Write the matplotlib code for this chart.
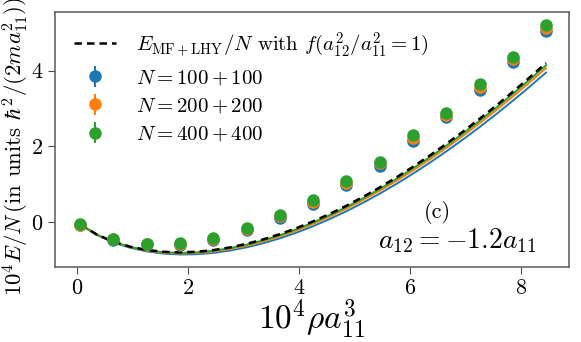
import numpy as np
import matplotlib
matplotlib.use('Agg')
import matplotlib.pyplot as plt

plt.rcParams['font.family'] = 'serif'
plt.rcParams['font.serif'] = ['cmr10', 'DejaVu Serif']
plt.rcParams['mathtext.fontset'] = 'cm'
plt.rcParams['axes.unicode_minus'] = False
plt.rcParams['axes.formatter.use_mathtext'] = True

# simulation points (10^4 rho a11^3, 10^4 E/N)
rho_pts = [0.05, 0.65, 1.25, 1.85, 2.45, 3.05, 3.65, 4.25, 4.85, 5.45,
           6.05, 6.65, 7.25, 7.85, 8.45]
e_100 = [-0.08, -0.46, -0.59, -0.60, -0.46, -0.20, 0.12, 0.49, 0.98, 1.49,
         2.13, 2.77, 3.49, 4.24, 5.06]
e_200 = [-0.07, -0.45, -0.58, -0.58, -0.44, -0.17, 0.16, 0.54, 1.03, 1.55,
         2.22, 2.83, 3.57, 4.30, 5.14]
e_400 = [-0.06, -0.44, -0.57, -0.56, -0.42, -0.15, 0.20, 0.58, 1.08, 1.60,
         2.30, 2.89, 3.65, 4.36, 5.21]
err = [0.03] * 15

# curves
rho_c = [0.05, 0.35, 0.65, 0.95, 1.25, 1.55, 1.85, 2.15, 2.45, 2.75, 3.05,
         3.35, 3.65, 3.95, 4.25, 4.55, 4.85, 5.15, 5.45, 5.75, 6.05, 6.35,
         6.65, 6.95, 7.25, 7.55, 7.85, 8.15, 8.45]
mf_lhy = [-0.060, -0.329, -0.517, -0.649, -0.736, -0.785, -0.800, -0.784,
          -0.740, -0.670, -0.575, -0.458, -0.319, -0.160, 0.019, 0.217,
          0.432, 0.665, 0.914, 1.179, 1.460, 1.755, 2.065, 2.388, 2.726,
          3.076, 3.440, 3.816, 4.203]
c_100 = [-0.062, -0.340, -0.537, -0.678, -0.774, -0.832, -0.856, -0.849,
         -0.814, -0.753, -0.667, -0.559, -0.429, -0.279, -0.109, 0.081,
         0.287, 0.511, 0.751, 1.007, 1.279, 1.565, 1.866, 2.180, 2.509,
         2.850, 3.205, 3.572, 3.950]
c_200 = [-0.061, -0.335, -0.527, -0.664, -0.756, -0.810, -0.830, -0.818,
         -0.779, -0.714, -0.624, -0.512, -0.377, -0.223, -0.049, 0.144,
         0.354, 0.583, 0.827, 1.087, 1.363, 1.653, 1.959, 2.277, 2.610,
         2.955, 3.314, 3.686, 4.068]
c_400 = [-0.060, -0.331, -0.522, -0.656, -0.745, -0.796, -0.813, -0.799,
         -0.757, -0.689, -0.596, -0.481, -0.345, -0.188, -0.011, 0.185,
         0.398, 0.629, 0.876, 1.139, 1.418, 1.711, 2.018, 2.339, 2.675,
         3.023, 3.385, 3.759, 4.144]

labels = [r'$N=100+100$', r'$N=200+200$', r'$N=400+400$']
colors = ['#1f77b4', '#ff7f0e', '#2ca02c']

fig = plt.figure(figsize=(5.81, 3.42), dpi=100)
ax = fig.add_axes([0.095, 0.22, 0.884, 0.746])

for c, col in zip([c_100, c_200, c_400], colors):
    ax.plot(rho_c, c, color=col, lw=1.4)
ax.plot(rho_c, mf_lhy, 'k--', lw=1.8, dashes=(3, 2),
        label=r'$E_{\mathrm{MF+LHY}}/N$ with $f(a_{12}^2/a_{11}^2=1)$')

for e, col, lab in zip([e_100, e_200, e_400], colors, labels):
    ax.errorbar(rho_pts, e, yerr=err, fmt='o', color=col, ms=8,
                elinewidth=1.5, label=lab)

ax.set_xlim(-0.4, 8.86)
ax.set_ylim(-1.18, 5.56)
ax.set_xticks([0, 2, 4, 6, 8])
ax.set_yticks([0, 2, 4])
ax.tick_params(labelsize=16, length=5, color='0.3')
for s in ax.spines.values():
    s.set_color('0.4')
    s.set_linewidth(1.2)

ax.set_xlabel(r'$10^4\rho a_{11}^3$', fontsize=24, labelpad=0)
ax.set_ylabel(r'$10^4E/N\,$(in units $\hbar^2/(2ma_{11}^2)$)', fontsize=16.5)
ax.yaxis.set_label_coords(-0.048, 0.47)

ax.text(6.5, 0.26, '(c)', fontsize=16, ha='center', va='center')
ax.text(6.85, -0.48, r'$a_{12}=-1.2a_{11}$', fontsize=20, ha='center',
        va='center')

ax.legend(loc='upper left', frameon=False, fontsize=15, handlelength=2.0,
          handletextpad=1.0, borderaxespad=0.5, labelspacing=0.45)

fig.savefig('out.png', dpi=100)
plt.close(fig)
